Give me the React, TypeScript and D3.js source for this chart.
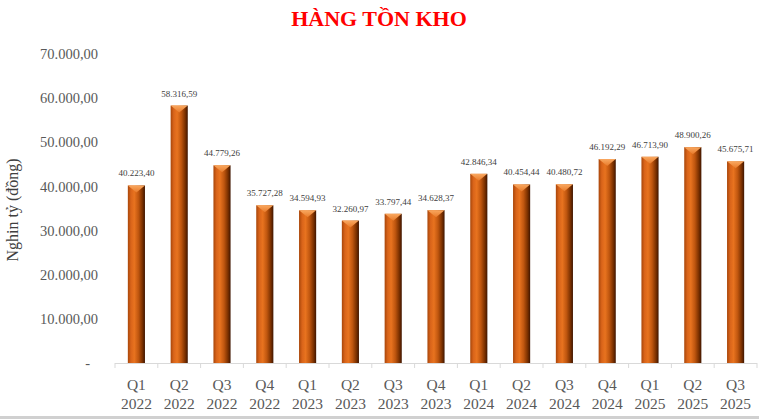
import React from "react";
import * as d3 from "d3";

const quarters = ["Q1", "Q2", "Q3", "Q4", "Q1", "Q2", "Q3", "Q4", "Q1", "Q2", "Q3", "Q4", "Q1", "Q2", "Q3"];
const years = ["2022", "2022", "2022", "2022", "2023", "2023", "2023", "2023", "2024", "2024", "2024", "2024", "2025", "2025", "2025"];
const values = [40223.4, 58316.59, 44779.26, 35727.28, 34594.93, 32260.97, 33797.44, 34628.37, 42846.34, 40454.44, 40480.72, 46192.29, 46713.9, 48900.26, 45675.71];
const valueLabels = ["40.223,40", "58.316,59", "44.779,26", "35.727,28", "34.594,93", "32.260,97", "33.797,44", "34.628,37", "42.846,34", "40.454,44", "40.480,72", "46.192,29", "46.713,90", "48.900,26", "45.675,71"];
const yTicks = [0, 10000, 20000, 30000, 40000, 50000, 60000, 70000];
const yTickLabels = ["-", "10.000,00", "20.000,00", "30.000,00", "40.000,00", "50.000,00", "60.000,00", "70.000,00"];

const W = 759;
const H = 419;
const FONT = "'Liberation Serif', 'Times New Roman', serif";

export default function App() {
  const idx = values.map((_, i) => i);
  const x = d3.scaleBand<number>().domain(idx).range([115, 757]).paddingInner(0.6).paddingOuter(0.3);
  const y = d3.scaleLinear().domain([0, 70000]).range([363, 54]);
  const step = x.step();
  const bw = x.bandwidth();

  return (
    <svg width={W} height={H} style={{ position: "absolute", left: 0, top: 0 }}>
      <defs>
        <linearGradient id="cyl" x1="0" x2="1" y1="0" y2="0">
          <stop offset="0%" stopColor="#A8460A" />
          <stop offset="18%" stopColor="#D9641A" />
          <stop offset="38%" stopColor="#E8731F" />
          <stop offset="62%" stopColor="#BF560F" />
          <stop offset="85%" stopColor="#7A3000" />
          <stop offset="100%" stopColor="#3F1500" />
        </linearGradient>
        <linearGradient id="capg" x1="0" x2="0" y1="0" y2="1">
          <stop offset="0%" stopColor="#F9A860" />
          <stop offset="100%" stopColor="#E87A2A" />
        </linearGradient>
      </defs>
      <rect x={0} y={0} width={W} height={H} fill="#ffffff" />
      <rect x={0} y={416} width={W} height={3} fill="#d0d0d0" />
      <text x={379} y={26} textAnchor="middle" fontFamily={FONT} fontWeight="bold" fontSize={22} fill="#ff0000">
        HÀNG TỒN KHO
      </text>
      {yTicks.map((t, i) => (
        <text key={i} x={i === 0 ? 90 : 98} y={y(t)} dy="0.35em" textAnchor="end" fontFamily={FONT} fontSize={14.5} fill="#595959">
          {yTickLabels[i]}
        </text>
      ))}
      <text transform="translate(18,210) rotate(-90)" textAnchor="middle" fontFamily={FONT} fontSize={16} fill="#404040">
        Nghin tỷ (đồng)
      </text>
      <line x1={115} x2={757} y1={363.5} y2={363.5} stroke="#d9d9d9" strokeWidth={1} />
      {d3.range(idx.length + 1).map((k) => {
        const xx = 115 + k * step;
        return <line key={k} x1={xx} x2={xx} y1={363} y2={368} stroke="#d9d9d9" />;
      })}
      {values.map((v, i) => {
        const x0 = x(i)!;
        const top = y(v);
        const cx = x0 + bw / 2;
        return (
          <g key={i}>
            <rect x={x0} y={top} width={bw} height={363 - top} fill="url(#cyl)" />
            <path d={`M${x0},${top} L${x0 + bw},${top} L${cx},${top + 7} Z`} fill="url(#capg)" />
            <text x={cx} y={top - 9} textAnchor="middle" fontFamily={FONT} fontSize={9} fill="#404040">
              {valueLabels[i]}
            </text>
            <text x={cx} y={390} textAnchor="middle" fontFamily={FONT} fontSize={15.5} fill="#595959">
              {quarters[i]}
            </text>
            <text x={cx} y={409} textAnchor="middle" fontFamily={FONT} fontSize={15.5} fill="#595959">
              {years[i]}
            </text>
          </g>
        );
      })}
    </svg>
  );
}
